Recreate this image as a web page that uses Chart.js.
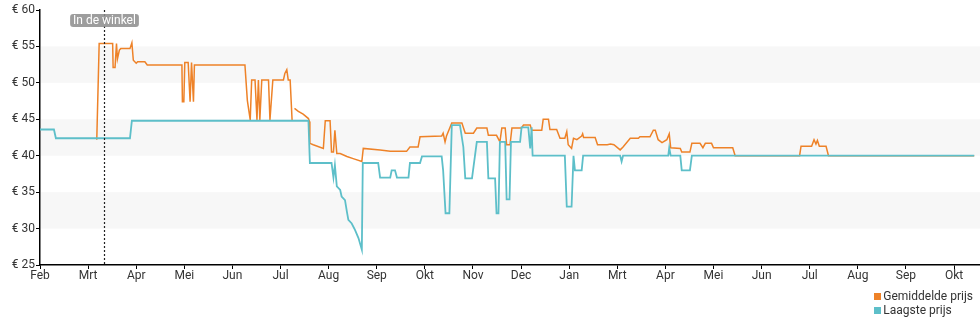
<!DOCTYPE html>
<html>
<head>
<meta charset="utf-8">
<script src="https://cdn.jsdelivr.net/npm/chart.js@4/dist/chart.umd.min.js"></script>
<style>
  html, body { margin: 0; padding: 0; background: #fff; }
  #wrap { position: relative; width: 980px; height: 325px; font-family: Roboto, "Noto Sans", sans-serif; }
  #legend { position: absolute; right: 7px; top: 289px; font-size: 12px; color: #333; line-height: 14px; }
  #legend div { white-space: nowrap; }
  #legend span { display: inline-block; width: 7px; height: 7px; margin-right: 2px; vertical-align: 0; }
</style>
</head>
<body>
<div id="wrap">
  <canvas id="chart" width="980" height="325"></canvas>
  <div id="legend"></div>
</div>
<script>
// ================== DATA ==================
// x = months since first Feb, y = price in euro
const monthLabels = ["Feb", "Mrt", "Apr", "Mei", "Jun", "Jul", "Aug", "Sep", "Okt", "Nov",
                     "Dec", "Jan", "Mrt", "Apr", "Mei", "Jun", "Jul", "Aug", "Sep", "Okt"];
const yTicks = [25, 30, 35, 40, 45, 50, 55, 60];
const bands = [[50, 55], [40, 45], [30, 35]];
const storeMark = 1.33;
const storeLabel = "In de winkel";

const avgX = [1.18, 1.23, 1.51, 1.52, 1.56, 1.59, 1.61, 1.65, 1.68, 1.87, 1.91, 1.94, 2.00, 2.03, 2.18, 2.23,
  2.95, 2.96, 2.99, 3.01, 3.08, 3.12, 3.15, 3.19, 3.21, 4.26, 4.31, 4.37, 4.40, 4.47, 4.51, 4.54, 4.57, 4.61,
  4.75, 4.78, 4.84, 5.06, 5.09, 5.13, 5.16, 5.20, 5.24, 5.265,
  5.29, 5.37, 5.47, 5.58, 5.60, 5.61, 5.68, 5.89, 5.93, 6.03, 6.06, 6.10, 6.13, 6.17, 6.24, 6.38, 6.51, 6.69,
  6.72, 7.07, 7.28, 7.62, 7.69, 7.86, 7.90, 8.35, 8.38, 8.42, 8.45, 8.56, 8.77, 8.84, 9.01, 9.08, 9.29, 9.32,
  9.49, 9.56, 9.60, 9.67, 9.70, 9.77, 9.81, 10.01, 10.05, 10.19, 10.22, 10.43, 10.46, 10.57, 10.60, 10.74,
  10.81, 10.91, 10.95, 10.98, 11.05, 11.09, 11.16, 11.26, 11.28, 11.30, 11.54, 11.59, 11.79, 11.86, 11.93,
  12.06, 12.12, 12.27, 12.44, 12.47, 12.68, 12.75, 12.79, 12.85, 12.93, 13.03, 13.08, 13.11, 13.31, 13.34,
  13.51, 13.55, 13.72, 13.78, 13.83, 13.96, 14.00, 14.40, 14.45, 15.79, 15.82, 16.04, 16.09, 16.13, 16.16,
  16.20, 16.34, 16.39, 19.42];
const avgY = [42.2, 55.4, 55.4, 52.1, 52.1, 55.4, 53.3, 54.5, 54.7, 54.7, 55.5, 53.1, 52.7, 52.9, 52.9, 52.45,
  52.45, 47.4, 47.4, 52.8, 52.8, 47.4, 52.8, 47.4, 52.45, 52.45, 47.6, 44.9, 50.4, 50.4, 44.9, 50.4, 44.9, 50.4,
  50.4, 44.9, 50.4, 50.4, 51.3, 51.8, 50.4, 50.4, 44.9, null,
  46.5, 46.1, 45.7, 45.1, 44.7, 41.7, 41.5, 41.0, 44.8, 44.8, 40.5, 40.5, 43.5, 40.3, 40.3, 39.9, 39.6, 39.2,
  41.0, 40.8, 40.6, 40.6, 41.2, 41.2, 42.6, 42.7, 43.1, 41.9, 42.7, 44.5, 44.5, 43.1, 43.1, 43.8, 43.8, 42.8,
  42.8, 41.9, 43.8, 43.8, 41.5, 41.5, 43.8, 43.8, 44.2, 44.2, 43.5, 43.5, 45.0, 45.0, 43.6, 43.6,
  42.4, 42.4, 43.3, 41.5, 41.0, 42.4, 42.2, 42.7, 43.0, 42.5, 42.5, 41.5, 41.5, 41.6, 41.5,
  40.8, 41.2, 42.4, 42.4, 42.6, 42.6, 43.5, 43.5, 42.2, 41.8, 42.2, 43.0, 41.1, 41.0, 40.5,
  40.5, 41.7, 41.7, 41.1, 41.7, 41.7, 41.1, 41.1, 40.0, 40.0, 41.3, 41.3, 42.2, 41.6, 42.1,
  41.3, 41.3, 40.0, 40.0];

const lowX = [0.00, 0.29, 0.33, 1.87, 1.91, 5.58, 5.61, 6.06, 6.10, 6.13, 6.17, 6.24, 6.27, 6.34, 6.38, 6.41,
  6.48, 6.55, 6.62, 6.69, 6.71, 7.03, 7.07, 7.28, 7.31, 7.38, 7.42, 7.66, 7.69, 7.90, 7.94, 8.35, 8.38, 8.43,
  8.51, 8.56, 8.73, 8.80, 8.84, 8.98, 9.04, 9.08, 9.29, 9.32, 9.46, 9.49, 9.53, 9.56, 9.67, 9.70, 9.76, 9.79,
  9.98, 10.01, 10.15, 10.19, 10.22, 10.24, 10.91, 10.95, 11.05, 11.09, 11.12, 11.26, 11.29, 12.06, 12.09,
  12.12, 13.06, 13.08, 13.11, 13.31, 13.34, 13.51, 13.55, 19.42];
const lowY = [43.6, 43.6, 42.4, 42.4, 44.8, 44.8, 39.0, 39.0, 37.0, 38.7, 35.8, 35.3, 34.4, 33.9, 32.3, 31.2,
  30.7, 29.8, 28.7, 27.1, 39.0, 39.0, 37.0, 37.0, 38.0, 38.0, 37.0, 37.0, 39.0, 39.0, 39.9, 39.9, 38.0, 32.1,
  32.1, 44.2, 44.2, 41.2, 36.9, 36.9, 39.9, 41.9, 41.9, 36.9, 36.9, 32.1, 32.1, 41.9, 41.9, 34.0, 34.0, 41.9,
  41.9, 43.9, 43.9, 41.0, 43.9, 40.0, 40.0, 33.0, 33.0, 40.0, 38.0, 38.0, 40.0, 40.0, 39.2,
  40.0, 40.0, 41.1, 40.0, 40.0, 38.0, 38.0, 40.0, 40.0];

// ================== HELPERS ==================
const pts = (xs, ys) => xs.map((x, i) => ({ x, y: ys[i] }));
const AVG_COLOR = "#ee8228";
const LOW_COLOR = "#5dbfc9";
const TEXT = "#333";

const bandsPlugin = {
  id: "bands",
  beforeDatasetsDraw(chart) {
    const { ctx, chartArea, scales: { y } } = chart;
    ctx.save();
    ctx.fillStyle = "#f7f7f7";
    bands.forEach(([lo, hi]) => {
      const top = y.getPixelForValue(hi), bot = y.getPixelForValue(lo);
      ctx.fillRect(chartArea.left + 1, top, chartArea.right - chartArea.left, bot - top);
    });
    ctx.restore();
  }
};

const storePlugin = {
  id: "store",
  afterDatasetsDraw(chart) {
    const { ctx, chartArea, scales: { x } } = chart;
    const px = Math.round(x.getPixelForValue(storeMark)) + 0.5;
    ctx.save();
    ctx.font = "12px Roboto, sans-serif";
    const w = ctx.measureText(storeLabel).width + 6, h = 13;
    const bx = px - w / 2, by = chartArea.top + 4;
    ctx.strokeStyle = "#222";
    ctx.lineWidth = 1.2;
    ctx.setLineDash([2, 2]);
    ctx.beginPath();
    ctx.moveTo(px, chartArea.top);
    ctx.lineTo(px, chartArea.bottom);
    ctx.stroke();
    ctx.fillStyle = "rgba(140,140,140,0.85)";
    ctx.beginPath();
    ctx.roundRect(bx, by, w, h, 3);
    ctx.fill();
    ctx.fillStyle = "#fff";
    ctx.textAlign = "center";
    ctx.textBaseline = "middle";
    ctx.fillText(storeLabel, px, by + h / 2 + 0.5);
    ctx.restore();
  }
};

// ================== CHART ==================
new Chart(document.getElementById("chart"), {
  type: "line",
  data: {
    datasets: [
      { label: "Gemiddelde prijs", data: pts(avgX, avgY), borderColor: AVG_COLOR, backgroundColor: AVG_COLOR,
        borderWidth: 1.5, pointRadius: 0, tension: 0, spanGaps: false, order: 1 },
      { label: "Laagste prijs", data: pts(lowX, lowY), borderColor: LOW_COLOR, backgroundColor: LOW_COLOR,
        borderWidth: 1.8, pointRadius: 0, tension: 0, order: 0 }
    ]
  },
  options: {
    responsive: false,
    animation: false,
    layout: { padding: { top: 10, right: 0, bottom: 40, left: 0 } },
    plugins: { legend: { display: false }, tooltip: { enabled: false } },
    scales: {
      x: {
        type: "linear", min: 0, max: 19.54,
        afterBuildTicks: s => { s.ticks = monthLabels.map((_, i) => ({ value: i })); },
        afterFit: s => { s.height = 20; },
        ticks: { callback: v => monthLabels[v], color: TEXT, font: { family: "Roboto", size: 12 },
                 padding: 0, maxRotation: 0, autoSkip: false },
        grid: { drawOnChartArea: false, tickLength: 4, color: "#000" },
        border: { color: "#000", width: 1.5 }
      },
      y: {
        min: 25, max: 60,
        afterBuildTicks: s => { s.ticks = yTicks.map(v => ({ value: v })); },
        afterFit: s => { s.width = 40; },
        ticks: { callback: v => "€ " + v, color: TEXT, font: { family: "Roboto", size: 12 }, padding: 1 },
        grid: { drawOnChartArea: false, tickLength: 4, color: "#000" },
        border: { color: "#000", width: 1.5 }
      }
    }
  },
  plugins: [bandsPlugin, storePlugin]
});

document.getElementById("legend").innerHTML = [["Gemiddelde prijs", AVG_COLOR], ["Laagste prijs", LOW_COLOR]]
  .map(([t, c]) => `<div><span style="background:${c}"></span>${t}</div>`).join("");
</script>
</body>
</html>
